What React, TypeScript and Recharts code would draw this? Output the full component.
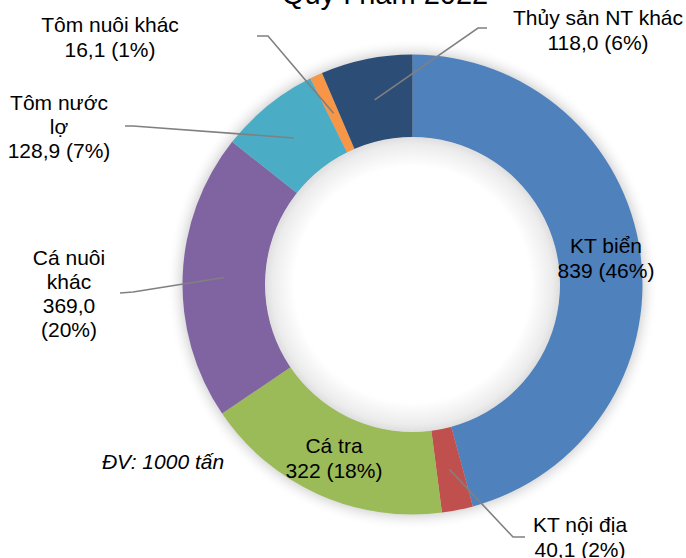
import React from "react";
import { PieChart, Pie, Cell } from "recharts";

const categories = [
  "KT biển",
  "KT nội địa",
  "Cá tra",
  "Cá nuôi khác",
  "Tôm nước lợ",
  "Tôm nuôi khác",
  "Thủy sản NT khác",
];
const values = [839, 40.1, 322, 369.0, 128.9, 16.1, 118.0];
const decimals = [0, 1, 0, 1, 1, 1, 1];
const colors = ["#4F81BD", "#C0504D", "#9BBB59", "#8064A2", "#4BACC6", "#F79646", "#2C4D75"];

const title = "Quý I năm 2022";
const unitNote = "ĐV: 1000 tấn";

const data = categories.map((name, i) => ({ name, value: values[i], dec: decimals[i] }));

// label layout: text lines (name split), text center x, first baseline, line height, leader elbow/end
type Layout = {
  nameLines: string[];
  valueOnOwnLine?: boolean;
  splitPct?: boolean;
  tx: number;
  ty: number;
  lh: number;
  elbow?: [number, number];
  end?: [number, number];
};
const layout: Layout[] = [
  { nameLines: ["KT biển"], tx: 606, ty: 253, lh: 24.5 },
  { nameLines: ["KT nội địa"], tx: 580, ty: 532, lh: 25, elbow: [513, 537], end: [525, 537] },
  { nameLines: ["Cá tra"], tx: 334, ty: 453, lh: 24.5 },
  { nameLines: ["Cá nuôi", "khác"], splitPct: true, tx: 69, ty: 265, lh: 24, elbow: [133, 292], end: [120, 293] },
  { nameLines: ["Tôm nước", "lợ"], tx: 59, ty: 110, lh: 24, elbow: [133, 126], end: [125, 126] },
  { nameLines: ["Tôm nuôi khác"], tx: 110, ty: 32, lh: 25, elbow: [268, 36], end: [257, 36] },
  { nameLines: ["Thủy sản NT khác"], tx: 598, ty: 25, lh: 25, elbow: [478, 28], end: [487, 28] },
];

const RAD = Math.PI / 180;
const FONT = "'Liberation Sans', Arial, sans-serif";

function fmt(v: number, d: number) {
  return v.toFixed(d).replace(".", ",");
}

function renderLabel(props: any) {
  const { cx, cy, midAngle, innerRadius, outerRadius, percent, index, payload } = props;
  const L = layout[index];
  const r = (innerRadius + outerRadius) / 2;
  const sx = cx + r * Math.cos(-midAngle * RAD);
  const sy = cy + r * Math.sin(-midAngle * RAD);
  const v = payload && payload.value !== undefined ? payload.value : props.value;
  const d = payload && payload.dec !== undefined ? payload.dec : 1;
  const valStr = fmt(v, d);
  const pctStr = `(${Math.round(percent * 100)}%)`;
  const lines = L.splitPct ? [...L.nameLines, valStr, pctStr] : [...L.nameLines, `${valStr} ${pctStr}`];
  return (
    <g key={`lbl-${index}`}>
      {L.elbow && L.end && (
        <polyline
          points={`${sx},${sy} ${L.elbow[0]},${L.elbow[1]} ${L.end[0]},${L.end[1]}`}
          fill="none"
          stroke="#808080"
          strokeWidth={1.6}
        />
      )}
      <text textAnchor="middle" fontFamily={FONT} fontSize={21} fill="#000">
        {lines.map((t, k) => (
          <tspan key={k} x={L.tx} y={L.ty + k * L.lh}>
            {t}
          </tspan>
        ))}
      </text>
    </g>
  );
}

export default function App() {
  return (
    <div style={{ position: "absolute", left: 0, top: 0, width: 686, height: 558, background: "#fff" }}>
      <PieChart width={686} height={558} margin={{ top: 0, right: 0, bottom: 0, left: 0 }}>
        <defs>
          <radialGradient id="glow" cx="50%" cy="50%" r="50%">
            <stop offset="0.9" stopColor="#b0b0b0" stopOpacity={0.7} />
            <stop offset="0.94" stopColor="#cfcfcf" stopOpacity={0.6} />
            <stop offset="1" stopColor="#ffffff" stopOpacity={0} />
          </radialGradient>
          <radialGradient id="hole" cx="50%" cy="50%" r="50%">
            <stop offset="0" stopColor="#ffffff" />
            <stop offset="0.8" stopColor="#ffffff" />
            <stop offset="0.95" stopColor="#ececec" />
            <stop offset="1" stopColor="#dedede" />
          </radialGradient>
        </defs>
        <Pie
          data={[{ name: "glow", value: 1 }]}
          dataKey="value"
          cx={412.5}
          cy={284.5}
          innerRadius={0}
          outerRadius={246}
          startAngle={90}
          endAngle={-270}
          stroke="none"
          fill="url(#glow)"
          isAnimationActive={false}
        />
        <Pie
          data={data}
          dataKey="value"
          nameKey="name"
          cx={412.5}
          cy={284.5}
          innerRadius={147}
          outerRadius={230}
          startAngle={90}
          endAngle={-270}
          stroke="none"
          label={renderLabel}
          labelLine={false}
          isAnimationActive={false}
        >
          {data.map((_, i) => (
            <Cell key={i} fill={colors[i]} stroke="none" />
          ))}
        </Pie>
        <Pie
          data={[{ name: "hole", value: 1 }]}
          dataKey="value"
          cx={412.5}
          cy={284.5}
          innerRadius={0}
          outerRadius={147.5}
          startAngle={90}
          endAngle={-270}
          stroke="none"
          fill="url(#hole)"
          isAnimationActive={false}
        />
        <text x={385} y={4} textAnchor="middle" fontFamily={FONT} fontSize={29} fill="#000">
          {title}
        </text>
        <text x={163} y={469} textAnchor="middle" fontFamily={FONT} fontSize={21} fontStyle="italic" fill="#000">
          {unitNote}
        </text>
      </PieChart>
    </div>
  );
}
